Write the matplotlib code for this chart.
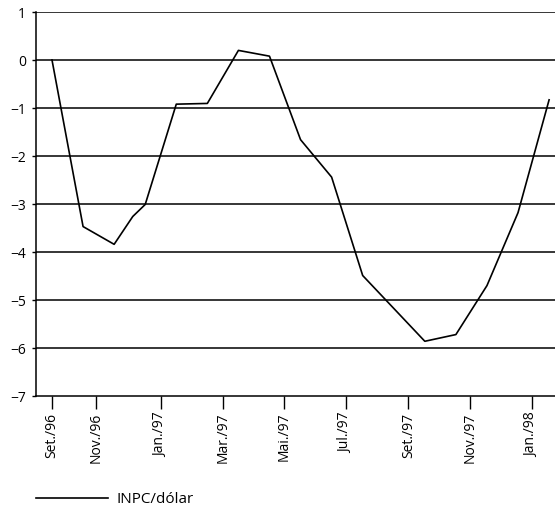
import matplotlib
matplotlib.use("Agg")
import matplotlib.pyplot as plt

plt.rcParams['font.family'] = ['Open Sans', 'DejaVu Sans']

# months since Set./96 (one extra reading in early Dec./96)
meses = [0, 1, 2, 2.6, 3, 4, 5, 6, 7, 8, 9, 10, 12, 13, 14, 15, 16]
inpc_dolar = [0.0, -3.47, -3.84, -3.26, -3.01, -0.92, -0.905, 0.2, 0.08,
              -1.66, -2.44, -4.49, -5.86, -5.72, -4.7, -3.18, -0.83]

tick_pos = [0, 1.43, 3.51, 5.5, 7.48, 9.45, 11.47, 13.46, 15.44]
tick_labels = ['Set./96', 'Nov./96', 'Jan./97', 'Mar./97', 'Mai./97',
               'Jul./97', 'Set./97', 'Nov./97', 'Jan./98']
y_ticks = [-7, -6, -5, -4, -3, -2, -1, 0, 1]

fig = plt.figure(figsize=(5.55, 5.08), dpi=100)
ax = fig.add_axes([36 / 555, 1 - 396 / 508, 1 - 36 / 555, (396 - 12) / 508])

for yv in y_ticks[1:]:
    ax.axhline(yv, color='black', lw=1.1, zorder=1)

line, = ax.plot(meses, inpc_dolar, color='black', lw=1.2, zorder=3,
                label='INPC/dólar')

ax.set_xlim(-0.515, 16.19)
ax.set_ylim(-7, 1)
ax.set_yticks(y_ticks)
ax.set_xticks(tick_pos)
ax.set_xticklabels(tick_labels, rotation=90, fontsize=10)
ax.tick_params(axis='y', length=3, width=1, labelsize=10, pad=4)
ax.tick_params(axis='x', length=9, width=1, pad=3)

for s in ['top', 'right']:
    ax.spines[s].set_visible(False)
ax.spines['left'].set_linewidth(1.1)
ax.spines['bottom'].set_linewidth(1.1)

fig.legend(handles=[line], loc='lower left',
           bbox_to_anchor=(36 / 555, 1 - 507 / 508), frameon=False,
           fontsize=11, handlelength=4.7, handletextpad=0.6,
           borderpad=0, borderaxespad=0)

fig.savefig('out.png', dpi=100)
